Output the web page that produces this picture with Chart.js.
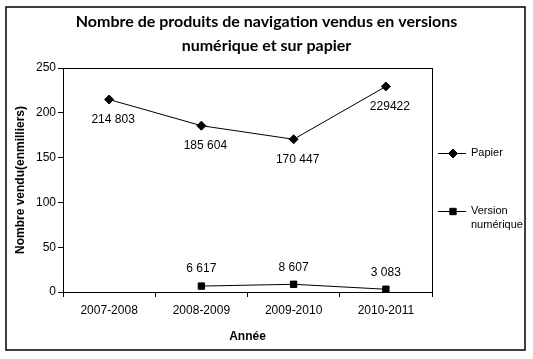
<!DOCTYPE html>
<html>
<head>
<meta charset="utf-8">
<script src="https://cdn.jsdelivr.net/npm/chart.js@4/dist/chart.umd.min.js"></script>
<style>
  html, body { margin: 0; padding: 0; background: #fff; }
  #wrap { width: 533px; height: 359px; }
</style>
</head>
<body>
<div id="wrap"><canvas id="chart" width="533" height="359"></canvas></div>
<script>
// Data (thousands of units)
const categories = ['2007-2008', '2008-2009', '2009-2010', '2010-2011'];
const papier = [214.803, 185.604, 170.447, 229.422];
const numerique = [null, 6.617, 8.607, 3.083];
const papierLabels = ['214 803', '185 604', '170 447', '229422'];
const numeriqueLabels = [null, '6 617', '8 607', '3 083'];
const yMin = 0;
const yMax = 250;
const yStep = 50;

const tickFont = { family: 'Liberation Sans', size: 12 };
const boldFont = { family: 'Liberation Sans', size: 12, weight: 'bold' };

// white background, plot frame and outer frame
const framePlugin = {
  id: 'frame',
  afterLayout(chart) {
    // centre the title over the whole picture, not only the plot + axes
    if (chart.titleBlock) {
      chart.titleBlock.left = 0;
      chart.titleBlock.right = chart.width;
      chart.titleBlock.width = chart.width;
    }
  },
  beforeDraw(chart) {
    const ctx = chart.ctx;
    ctx.save();
    ctx.fillStyle = '#fff';
    ctx.fillRect(0, 0, chart.width, chart.height);
    ctx.restore();
  },
  afterDraw(chart) {
    const ctx = chart.ctx;
    const a = chart.chartArea;
    ctx.save();
    ctx.strokeStyle = '#000';
    ctx.lineWidth = 1;
    ctx.strokeRect(Math.round(a.left) + 0.5, Math.round(a.top) + 0.5,
      Math.round(a.right - a.left), Math.round(a.bottom - a.top));
    ctx.lineWidth = 1.5;
    ctx.strokeRect(6, 7, 519, 343);
    ctx.restore();
  }
};

// value labels next to the points
const pointLabelPlugin = {
  id: 'pointLabels',
  afterDatasetsDraw(chart, args, opts) {
    const ctx = chart.ctx;
    ctx.save();
    ctx.font = '12px "Liberation Sans"';
    ctx.fillStyle = '#000';
    ctx.textAlign = 'center';
    ctx.textBaseline = 'middle';
    chart.data.datasets.forEach((ds, di) => {
      const meta = chart.getDatasetMeta(di);
      const off = opts.offsets[di];
      meta.data.forEach((pt, i) => {
        const txt = ds.valueLabels[i];
        if (!txt || ds.data[i] == null) return;
        ctx.fillText(txt, pt.x + off[0], pt.y + off[1]);
      });
    });
    ctx.restore();
  }
};

// legend on the right, drawn from the dataset definitions
const sideLegendPlugin = {
  id: 'sideLegend',
  afterDraw(chart, args, opts) {
    const ctx = chart.ctx;
    ctx.save();
    ctx.font = '11px "Liberation Sans"';
    ctx.textBaseline = 'middle';
    ctx.textAlign = 'left';
    chart.data.datasets.forEach((ds, di) => {
      const y = opts.rows[di];
      ctx.strokeStyle = '#000';
      ctx.lineWidth = 1;
      ctx.beginPath();
      ctx.moveTo(opts.x, y + 0.5);
      ctx.lineTo(opts.x + 28, y + 0.5);
      ctx.stroke();
      ctx.fillStyle = '#000';
      Chart.helpers.drawPoint(ctx, {
        pointStyle: ds.pointStyle, radius: ds.pointRadius, rotation: 0, borderWidth: 1
      }, opts.x + 15, y + 0.5);
      const lines = Array.isArray(ds.label) ? ds.label : [ds.label];
      lines.forEach((l, li) => {
        ctx.fillStyle = '#000';
        ctx.fillText(l, opts.x + 33, y + li * 14);
      });
    });
    ctx.restore();
  }
};

new Chart(document.getElementById('chart'), {
  type: 'line',
  data: {
    labels: categories,
    datasets: [
      {
        label: 'Papier',
        data: papier,
        valueLabels: papierLabels,
        borderColor: '#000',
        backgroundColor: '#000',
        borderWidth: 1,
        pointStyle: 'rectRot',
        pointRadius: 4.5,
        pointBorderWidth: 1,
        tension: 0
      },
      {
        label: ['Version', 'numérique'],
        data: numerique,
        valueLabels: numeriqueLabels,
        borderColor: '#000',
        backgroundColor: '#000',
        borderWidth: 1,
        pointStyle: 'rect',
        pointRadius: 4.5,
        pointBorderWidth: 1,
        tension: 0
      }
    ]
  },
  options: {
    responsive: false,
    animation: false,
    layout: { padding: { left: 0, right: 101, top: 0, bottom: 0 } },
    plugins: {
      legend: { display: false },
      tooltip: { enabled: false },
      title: {
        display: true,
        text: ['Nombre de produits de navigation vendus en versions', 'numérique et sur papier'],
        color: '#000',
        font: { family: 'Lato', size: 16, weight: 'bold', lineHeight: 1.5 },
        padding: { top: 10, bottom: 10 }
      },
      pointLabels: { offsets: [[4, 20], [0, -17]] },
      sideLegend: { x: 438, rows: [153, 211] }
    },
    scales: {
      x: {
        offset: true,
        grid: { offset: true, drawOnChartArea: false, drawTicks: true, tickLength: 5, color: '#000' },
        border: { display: false },
        ticks: { color: '#000', font: tickFont, maxRotation: 0, padding: 6 },
        title: { display: true, text: 'Année', color: '#000', font: boldFont, padding: { top: 0, bottom: 15 } },
        afterFit(scale) { scale.height = 67; }
      },
      y: {
        min: yMin,
        max: yMax,
        grid: { drawOnChartArea: false, drawTicks: true, tickLength: 5, color: '#000' },
        border: { display: false },
        ticks: { color: '#000', font: tickFont, stepSize: yStep, padding: 2 },
        title: { display: true, text: 'Nombre vendu(enmilliers)', color: '#000', font: boldFont, padding: { top: 13, bottom: 0 } },
        afterFit(scale) { scale.width = 63; }
      }
    }
  },
  plugins: [framePlugin, pointLabelPlugin, sideLegendPlugin]
});
</script>
</body>
</html>
